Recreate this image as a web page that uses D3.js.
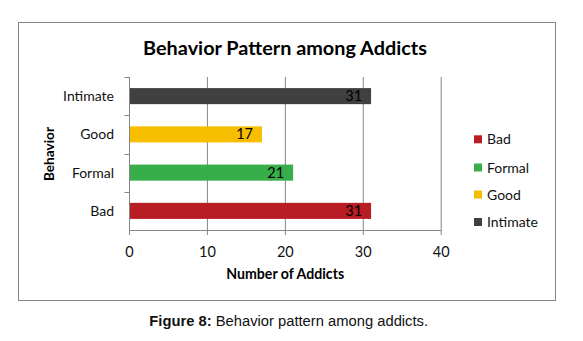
<!DOCTYPE html>
<html><head><meta charset="utf-8">
<script src="https://cdn.jsdelivr.net/npm/d3@7"></script>
<style>html,body{margin:0;padding:0;background:#fff;}svg{display:block;}</style>
</head><body>
<script>
const categories = ["Bad", "Formal", "Good", "Intimate"];
const values = [31, 21, 17, 31];
const colors = ["#B81D23", "#37AE4A", "#F7BE00", "#404040"];
const xTicks = [0, 10, 20, 30, 40];
const chartTitle = "Behavior Pattern among Addicts";
const xTitle = "Number of Addicts";
const yTitle = "Behavior";
const captionBold = "Figure 8:";
const captionText = " Behavior pattern among addicts.";

const W = 583, H = 341;
const font = "Lato, 'Noto Sans', sans-serif";
const grid = "#868686";
const svg = d3.select("body").append("svg").attr("width", W).attr("height", H);

function fit(sel, target) {
  const w = sel.node().getComputedTextLength();
  const fs = parseFloat(sel.attr("font-size"));
  sel.attr("font-size", fs * target / w);
}

// outer border
svg.append("rect").attr("x", 18.5).attr("y", 22.5).attr("width", 537).attr("height", 278)
  .attr("fill", "#fff").attr("stroke", grid).attr("stroke-width", 1);

const x = d3.scaleLinear().domain([0, 40]).range([129.5, 441.2]);
const y = d3.scaleBand().domain(categories.slice().reverse()).range([77, 230]).paddingInner(0.58).paddingOuter(0.29);
const yb = d3.scaleBand().domain(categories.slice().reverse()).range([77, 230]);

// gridlines
svg.append("g").selectAll("line").data(xTicks.slice(1)).join("line")
  .attr("x1", d => x(d)).attr("x2", d => x(d)).attr("y1", 77).attr("y2", 235)
  .attr("stroke", grid).attr("stroke-width", 1);

// y axis line
svg.append("line").attr("x1", x(0)).attr("x2", x(0)).attr("y1", 77).attr("y2", 235).attr("stroke", grid);
// x axis line
svg.append("line").attr("x1", x(0)).attr("x2", x(40)).attr("y1", 230.5).attr("y2", 230.5).attr("stroke", grid);
// y ticks at band boundaries
const bounds = [77].concat(categories.map(c => yb(c) + yb.bandwidth())).concat([]);
svg.append("g").selectAll("line").data(yb.domain()).join("line")
  .attr("x1", x(0) - 5).attr("x2", x(0)).attr("y1", d => Math.round(yb(d)) + 0.5).attr("y2", d => Math.round(yb(d)) + 0.5)
  .attr("stroke", grid);

// bars
svg.append("g").selectAll("rect").data(categories).join("rect")
  .attr("x", x(0) + 0.5).attr("y", d => y(d)).attr("height", y.bandwidth())
  .attr("width", (d, i) => x(values[i]) - x(0) - 0.5)
  .attr("fill", (d, i) => colors[i]);

// data labels
svg.append("g").selectAll("text").data(categories).join("text")
  .attr("x", (d, i) => x(values[i]) - 9).attr("y", d => y(d) + y.bandwidth() / 2 + 5)
  .attr("text-anchor", "end").attr("font-family", font).attr("font-size", 14.5).attr("fill", "#000")
  .text((d, i) => values[i]);

// category labels
svg.append("g").selectAll("text").data(categories).join("text")
  .attr("x", 114).attr("y", d => y(d) + y.bandwidth() / 2 + 5)
  .attr("text-anchor", "end").attr("font-family", font).attr("font-size", 14).attr("fill", "#111")
  .text(d => d);

// x tick labels
svg.append("g").selectAll("text").data(xTicks).join("text")
  .attr("x", d => x(d)).attr("y", 256.5)
  .attr("text-anchor", "middle").attr("font-family", font).attr("font-size", 14.5).attr("fill", "#111")
  .text(d => d);

// title
const t = svg.append("text").attr("x", 285).attr("y", 54.5).attr("text-anchor", "middle")
  .attr("font-family", font).attr("font-weight", "bold").attr("font-size", 20).attr("fill", "#000").text(chartTitle);
fit(t, 284);

// x title
const xt = svg.append("text").attr("x", 285.2).attr("y", 279).attr("text-anchor", "middle")
  .attr("font-family", font).attr("font-weight", "bold").attr("font-size", 14).attr("fill", "#000").text(xTitle);
fit(xt, 118);

// y title
const yt = svg.append("text").attr("transform", "translate(53.5,154) rotate(-90)").attr("text-anchor", "middle")
  .attr("font-family", font).attr("font-weight", "bold").attr("font-size", 14).attr("fill", "#000").text(yTitle);
fit(yt, 54);

// legend
const legY = [139.3, 167.5, 194.5, 222];
const leg = svg.append("g").selectAll("g").data(categories).join("g")
  .attr("transform", (d, i) => `translate(474,${legY[i]})`);
leg.append("rect").attr("x", 0).attr("y", -4).attr("width", 8).attr("height", 8).attr("fill", (d, i) => colors[i]);
leg.append("text").attr("x", 13).attr("y", 5).attr("font-family", font).attr("font-size", 14).attr("fill", "#111").text(d => d);

// caption
const cap = svg.append("text").attr("x", 288.7).attr("y", 325.7).attr("text-anchor", "middle")
  .attr("font-family", "'Liberation Sans', Arial, sans-serif").attr("font-size", 14).attr("fill", "#111");
cap.append("tspan").attr("font-weight", "bold").text(captionBold);
cap.append("tspan").text(captionText);
fit(cap, 279);
</script>
</body></html>
